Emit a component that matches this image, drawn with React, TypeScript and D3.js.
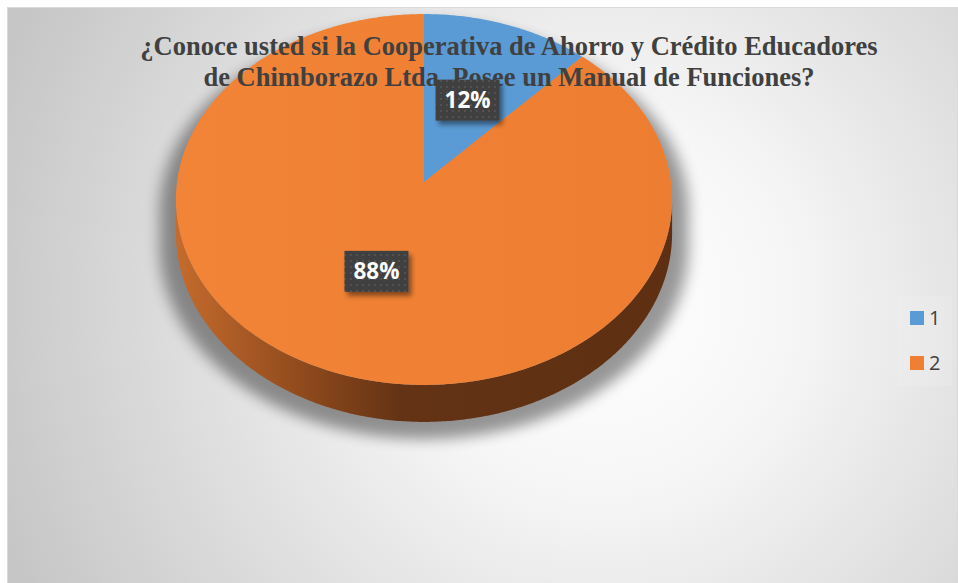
import React from 'react';
import * as d3 from 'd3';

const categories = ['1', '2'];
const values = [12, 88];
const labelTexts = ['12%', '88%'];
const colors = ['#5b9bd5', '#ef7f33'];
const titleLines = [
  '¿Conoce usted si la Cooperativa de Ahorro y Crédito Educadores',
  'de Chimborazo Ltda. Posee un Manual de Funciones?',
];

const W = 958;
const Hh = 583;
// projection of the tilted disk (perspective)
const CX = 424, CY = 182, A = 247, B = 183.8, K = 0.0943, DEPTH = 33.5;

function proj(r: number, phi: number): [number, number] {
  const u = r * Math.sin(phi);
  const v = -r * Math.cos(phi);
  const d = 1 - K * v;
  return [CX + (A * u) / d, CY + (B * v) / d];
}
function projBottom(phi: number): [number, number] {
  const v = -Math.cos(phi);
  const d = 1 - K * v;
  const [x, y] = proj(1, phi);
  return [x, y + DEPTH / d];
}

function sampleRange(a0: number, a1: number, step = Math.PI / 360): number[] {
  const out: number[] = [];
  const n = Math.max(2, Math.ceil(Math.abs(a1 - a0) / step));
  for (let i = 0; i <= n; i++) out.push(a0 + ((a1 - a0) * i) / n);
  return out;
}

export default function App() {
  const pie = d3.pie<number>().sort(null).value((d) => d).startAngle(0).endAngle(2 * Math.PI);
  const arcs = pie(values);

  const all = sampleRange(0, 2 * Math.PI, Math.PI / 720);
  let phiR = 0, phiL = 0, maxX = -Infinity, minX = Infinity;
  all.forEach((p) => {
    const [x] = proj(1, p);
    if (x > maxX) { maxX = x; phiR = p; }
    if (x < minX) { minX = x; phiL = p; }
  });

  const line = d3.line<[number, number]>().x((d) => d[0]).y((d) => d[1]);

  const slicePaths = arcs.map((a) => {
    const pts: [number, number][] = [[CX, CY], ...sampleRange(a.startAngle, a.endAngle).map((p) => proj(1, p))];
    return line(pts) + 'Z';
  });

  const sidePaths = arcs.map((a) => {
    const s = Math.max(a.startAngle, phiR);
    const e = Math.min(a.endAngle, phiL);
    if (e <= s) return null;
    const ph = sampleRange(s, e);
    const pts: [number, number][] = [...ph.map((p) => proj(1, p)), ...ph.slice().reverse().map((p) => projBottom(p))];
    return line(pts) + 'Z';
  });

  const silhouettePts: [number, number][] = [
    ...sampleRange(phiL - 2 * Math.PI, phiR).map((p) => proj(1, p)),
    ...sampleRange(phiR, phiL).map((p) => projBottom(p)),
  ];
  const silhouette = line(silhouettePts) + 'Z';

  const labelPos = arcs.map((a) => proj(0.5, (a.startAngle + a.endAngle) / 2));

  const boxW = 64, boxH = 41;
  const legendY = [318, 363];

  return (
    <div style={{ position: 'absolute', left: 0, top: 0 }}>
      <svg width={W} height={Hh} style={{ display: 'block' }}>
        <defs>
          <radialGradient id="bg" gradientUnits="userSpaceOnUse" cx={600} cy={300} r={640}>
            <stop offset="0" stopColor="#ffffff" />
            <stop offset="0.3" stopColor="#f6f6f6" />
            <stop offset="1" stopColor="#c6c6c6" />
          </radialGradient>
          <linearGradient id="side" gradientUnits="userSpaceOnUse" x1={minX} x2={maxX} y1={0} y2={0}>
            <stop offset="0" stopColor="#c56b2d" />
            <stop offset="0.28" stopColor="#8a471b" />
            <stop offset="0.45" stopColor="#643315" />
            <stop offset="1" stopColor="#5e2f12" />
          </linearGradient>
          <linearGradient id="topOrange" x1="0" x2="1" y1="0" y2="0">
            <stop offset="0" stopColor="#f28437" />
            <stop offset="1" stopColor="#ed7d31" />
          </linearGradient>
          <filter id="blur" x="-20%" y="-20%" width="140%" height="140%">
            <feGaussianBlur stdDeviation="7" />
          </filter>
          <filter id="lblShadow" x="-30%" y="-30%" width="160%" height="170%">
            <feDropShadow dx="3" dy="4" stdDeviation="2.5" floodColor="#000" floodOpacity="0.45" />
          </filter>
          <pattern id="dots" width="6" height="6" patternUnits="userSpaceOnUse">
            <rect width="6" height="6" fill="#404040" />
            <circle cx="3" cy="3" r="1" fill="#565656" />
          </pattern>
        </defs>
        <rect x={0} y={0} width={W} height={Hh} fill="#ffffff" />
        <rect x={7.5} y={7.5} width={W - 8} height={Hh - 6} fill="url(#bg)" stroke="#d9d9d9" strokeWidth={1} />

        {/* shadow under pie */}
        <path
          d={silhouette}
          fill="#000"
          opacity={0.4}
          filter="url(#blur)"
          transform={`translate(${CX},${CY}) scale(1.065,1.02) translate(${-CX},${-CY}) translate(0,12)`}
        />

        {sidePaths.map((d, i) => (d ? <path key={'s' + i} d={d} fill="url(#side)" /> : null))}
        {slicePaths.map((d, i) => (
          <path key={'p' + i} d={d} fill={i === 1 ? 'url(#topOrange)' : colors[i]} />
        ))}

        {titleLines.map((t, i) => (
          <text
            key={'t' + i}
            x={509}
            y={55 + i * 31}
            textAnchor="middle"
            fontFamily="'Liberation Serif', 'Times New Roman', serif"
            fontWeight="bold"
            fontSize={26.5}
            fill="#404040"
          >
            {t}
          </text>
        ))}

        {labelPos.map(([x, y], i) => (
          <g key={'l' + i}>
            <rect x={x - boxW / 2} y={y - boxH / 2} width={boxW} height={boxH} fill="url(#dots)" filter="url(#lblShadow)" />
            <text
              x={x}
              y={y}
              dy="0.36em"
              textAnchor="middle"
              fontFamily="'Open Sans', 'Noto Sans', sans-serif"
              fontWeight="bold"
              fontSize={22.5}
              fill="#ffffff"
            >
              {labelTexts[i]}
            </text>
          </g>
        ))}

        <rect x={897} y={296} width={55} height={90} fill="#ffffff" opacity={0.12} />
        {categories.map((c, i) => (
          <g key={'g' + i}>
            <rect x={910} y={legendY[i] - 7} width={14} height={14} fill={colors[i]} />
            <text
              x={929}
              y={legendY[i]}
              dy="0.36em"
              fontFamily="'Open Sans', 'Noto Sans', sans-serif"
              fontSize={20}
              fill="#404040"
            >
              {c}
            </text>
          </g>
        ))}
      </svg>
    </div>
  );
}
